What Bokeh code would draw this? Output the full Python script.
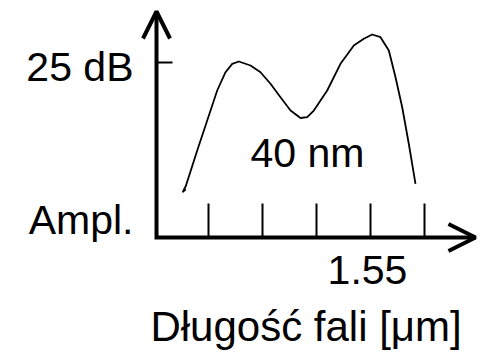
from bokeh.plotting import figure
from bokeh.models import Range1d, Label, Arrow, OpenHead
from bokeh.core.properties import value
from bokeh.embed import file_html
from bokeh.resources import INLINE

# ---- data ----
wavelength_nm = [1515.78, 1515.26, 1515.80, 1517.91, 1519.76, 1521.61, 1523.15,
                 1524.39, 1525.61, 1527.78, 1529.63, 1531.48, 1533.33, 1535.19,
                 1537.04, 1538.28, 1539.50, 1540.74, 1541.98, 1544.44, 1546.91,
                 1548.76, 1550.31, 1551.85, 1553.39, 1554.63, 1555.87, 1557.09,
                 1558.33]
amplitude_db = [6.89, 6.54, 7.36, 12.43, 16.71, 21.00, 23.61,
                24.81, 25.14, 24.57, 23.61, 21.96, 20.04, 18.14,
                17.07, 17.19, 18.14, 19.57, 21.00, 24.81, 27.43,
                28.39, 29.00, 28.61, 26.71, 22.90, 18.61, 13.39,
                7.67]
x_ticks_nm = [1520, 1530, 1540, 1550, 1560]
x_tick_labels = ["", "", "", "1.55", ""]
y_ticks_db = [25]
y_tick_labels = ["25 dB"]
y_name = "Ampl."
x_name = "Długość fali [μm]"
bandwidth_text = "40 nm"

# axis geometry (data units)
AX_X0, AX_X1 = 1510.37, 1569.44     # x axis: origin .. arrow tip
AX_Y0, AX_Y1 = 0.0, 32.286          # y axis: origin .. arrow tip
XTICK_LEN = 4.857                   # dB (34 px)
YTICK_LEN = 2.96                    # nm (16 px)

FONT = "Liberation Sans"
FS = "41px"

p = figure(width=490, height=363, x_range=Range1d(1481.48, 1572.22),
           y_range=Range1d(-18.0, 33.857), output_backend="svg",
           toolbar_location=None, x_axis_type=None, y_axis_type=None,
           min_border=0)
p.outline_line_color = None
p.grid.visible = False
p.background_fill_color = "white"
p.border_fill_color = "white"

# axes lines (with a clean corner)
p.line([AX_X0, AX_X0, AX_X1], [AX_Y1, AX_Y0, AX_Y0], line_width=4,
       line_color="black", line_join="miter")
# arrow heads
for xs, ys, xe, ye in [(AX_X0, AX_Y0, AX_X0, AX_Y1), (AX_X0, AX_Y0, AX_X1, AX_Y0)]:
    p.add_layout(Arrow(end=OpenHead(size=27, line_width=4, line_color="black"),
                       x_start=xs, y_start=ys, x_end=xe, y_end=ye,
                       line_color=None))

# tick marks
p.segment(x0=x_ticks_nm, y0=[AX_Y0] * len(x_ticks_nm),
          x1=x_ticks_nm, y1=[AX_Y0 + XTICK_LEN] * len(x_ticks_nm),
          line_width=2, line_color="black")
p.segment(x0=[AX_X0] * len(y_ticks_db), y0=y_ticks_db,
          x1=[AX_X0 + YTICK_LEN] * len(y_ticks_db), y1=y_ticks_db,
          line_width=2, line_color="black")

# tick labels
p.text(x=x_ticks_nm, y=[AX_Y0] * len(x_ticks_nm), text=x_tick_labels,
       x_offset=-3, y_offset=33, text_align="center", text_baseline="alphabetic",
       text_font=value(FONT), text_font_size=FS, text_color="black")
p.text(x=[AX_X0] * len(y_ticks_db), y=y_ticks_db, text=y_tick_labels,
       x_offset=-23, y_offset=5, text_align="right", text_baseline="alphabetic",
       text_font=value(FONT), text_font_size=FS, text_color="black")

# spectrum curve
p.line(wavelength_nm, amplitude_db, line_width=1.8, line_color="black",
       line_join="round")

# other texts
p.add_layout(Label(x=AX_X0, y=AX_Y0, x_offset=-23, y_offset=17.5, text=y_name,
                   text_align="right", text_baseline="alphabetic",
                   text_font=FONT, text_font_size=FS, text_color="black"))
p.add_layout(Label(x=1538.33, y=12.0, text=bandwidth_text, text_align="center",
                   text_baseline="alphabetic", text_font=FONT, text_font_size=FS,
                   text_color="black"))
p.add_layout(Label(x=1538.06, y=-12.7, text=x_name, text_align="center",
                   text_baseline="alphabetic", text_font=FONT, text_font_size="42px",
                   text_color="black"))

open("out.html", "w").write(file_html(p, INLINE))
